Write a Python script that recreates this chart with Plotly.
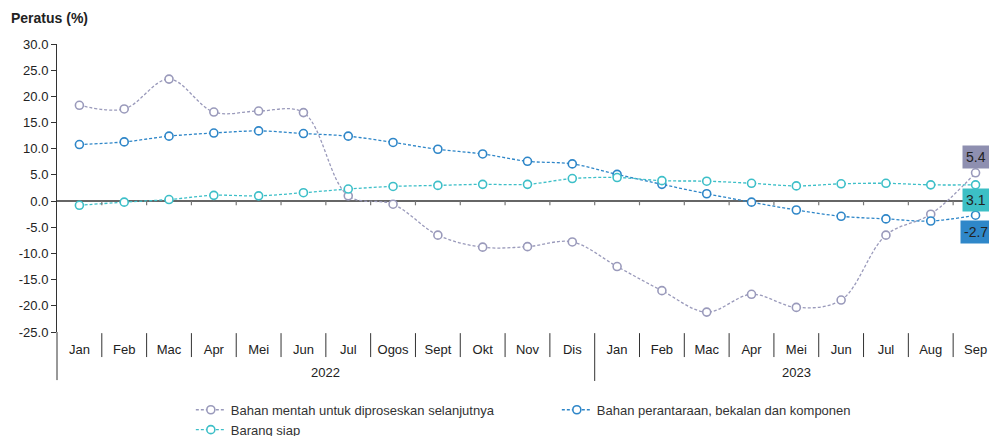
import plotly.graph_objects as go

# Monthly series, Jan 2022 - Sep 2023
months = ["Jan", "Feb", "Mac", "Apr", "Mei", "Jun", "Jul", "Ogos", "Sept", "Okt", "Nov", "Dis",
          "Jan", "Feb", "Mac", "Apr", "Mei", "Jun", "Jul", "Aug", "Sep"]
years = ["2022", "2023"]

bahan_mentah = [18.3, 17.6, 23.3, 17.0, 17.2, 16.9, 1.0, -0.6, -6.5, -8.8, -8.7, -7.8,
                -12.5, -17.1, -21.2, -17.8, -20.3, -18.9, -6.5, -2.5, 5.4]
bahan_perantaraan = [10.8, 11.3, 12.4, 13.0, 13.4, 12.9, 12.4, 11.2, 9.9, 9.0, 7.6, 7.1,
                     5.1, 3.2, 1.4, -0.2, -1.7, -2.9, -3.4, -3.8, -2.7]
barang_siap = [-0.8, -0.2, 0.3, 1.1, 1.0, 1.6, 2.3, 2.8, 3.0, 3.2, 3.2, 4.3,
               4.5, 3.9, 3.8, 3.4, 2.9, 3.3, 3.4, 3.1, 3.1]

series = [
    ("Bahan mentah untuk diproseskan selanjutnya", bahan_mentah, "#9a9abb", "#8e8fb0", 16),
    ("Bahan perantaraan, bekalan dan komponen", bahan_perantaraan, "#2e86c8", "#2f87c9", -17),
    ("Barang siap", barang_siap, "#3dbfc8", "#3cbfc5", -15),
]

x = list(range(len(months)))
fig = go.Figure()

for name, vals, color, _, _ in series:
    fig.add_trace(go.Scatter(
        x=x, y=vals, name=name, mode="lines+markers",
        line=dict(color=color, width=1.3, dash="3px,2px", shape="spline", smoothing=1),
        marker=dict(size=8, color="white", line=dict(color=color, width=1.6)),
    ))

# End-of-series value boxes
for name, vals, _, box, shift in series:
    fig.add_annotation(
        x=x[-1], y=vals[-1], xref="x", yref="y", text=f"{vals[-1]:.1f}",
        showarrow=False, bgcolor=box, font=dict(size=14, color="#222"),
        borderpad=3, yshift=shift, xanchor="center", yanchor="middle",
    )

shapes = []
# Category separators below the plot and small ticks on the zero line
for k in range(len(months) - 1):
    b = k + 0.5
    long_sep = (k == 11)
    shapes.append(dict(type="line", xref="x", yref="paper", x0=b, x1=b,
                       y0=-0.004, y1=-0.17 if long_sep else -0.087,
                       line=dict(color="#333", width=1)))
    shapes.append(dict(type="line", xref="x", yref="y", x0=b, x1=b, y0=0, y1=-0.8,
                       line=dict(color="#777", width=1.2)))
# Extended y-axis line
shapes.append(dict(type="line", xref="paper", yref="paper", x0=0, x1=0, y0=0, y1=-0.167,
                   line=dict(color="#333", width=1)))

fig.add_annotation(x=5.5, y=-0.139, xref="x", yref="paper", text=years[0], showarrow=False,
                   font=dict(size=13, color="#222"), yanchor="middle")
fig.add_annotation(x=16, y=-0.139, xref="x", yref="paper", text=years[1], showarrow=False,
                   font=dict(size=13, color="#222"), yanchor="middle")
fig.add_annotation(x=-0.052, y=1.09, xref="paper", yref="paper", text="<b>Peratus (%)</b>",
                   showarrow=False, xanchor="left", yanchor="middle",
                   font=dict(size=14, color="#222"))

fig.update_layout(
    width=989, height=436,
    margin=dict(l=57, r=0, t=44, b=104, autoexpand=False),
    paper_bgcolor="white", plot_bgcolor="white",
    font=dict(family="Liberation Sans, Arial, sans-serif", size=13, color="#222"),
    shapes=shapes,
    showlegend=True,
    legend=dict(orientation="h", x=0.1436, y=-0.218, xanchor="left", yanchor="top",
                font=dict(size=13, color="#333"), entrywidth=321, entrywidthmode="pixels",
                tracegroupgap=0, itemwidth=30),
    xaxis=dict(range=[-0.5, 20.30], tickmode="array", tickvals=x, ticktext=months,
               showgrid=False, zeroline=False, showline=False, ticks="",
               ticklabelstandoff=8, tickfont=dict(size=13, color="#222"), fixedrange=True),
    yaxis=dict(range=[-25, 30], tickmode="array", tickvals=list(range(-25, 31, 5)),
               ticktext=[f"{v:.1f}" for v in range(-25, 31, 5)],
               showgrid=False, zeroline=True, zerolinecolor="#666", zerolinewidth=1.5,
               showline=True, linecolor="#333", linewidth=1, ticks="outside", ticklen=5,
               tickcolor="#333", tickfont=dict(size=13, color="#222"), fixedrange=True),
)

fig.write_html("out.html")
